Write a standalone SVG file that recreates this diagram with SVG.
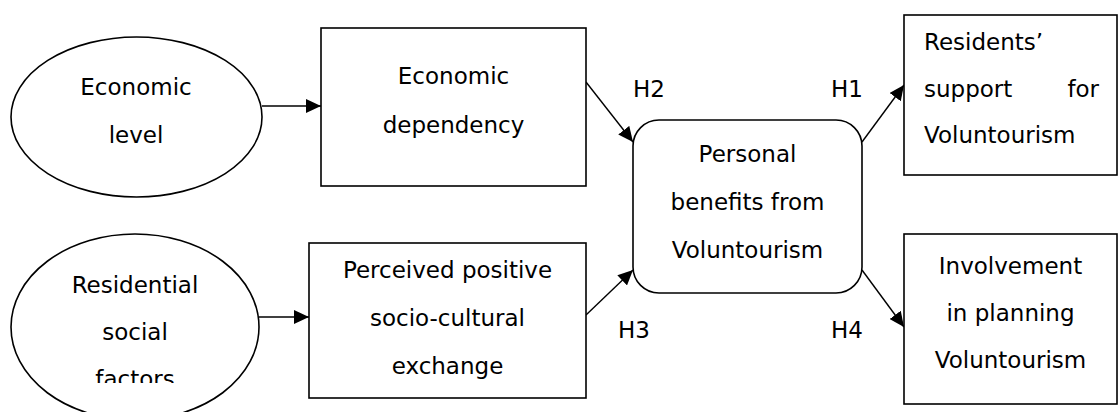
<svg xmlns="http://www.w3.org/2000/svg" width="1119" height="412" viewBox="0 0 1119 412">
<style>
.n{fill:#fff;stroke:#000;stroke-width:1.6}
.t{font-family:"DejaVu Sans",sans-serif;font-size:23px;fill:#000}
.c{text-anchor:middle}
.e{stroke:#000;stroke-width:1.4;fill:none;marker-end:url(#ah)}
</style>
<defs>
<marker id="ah" markerUnits="userSpaceOnUse" markerWidth="16" markerHeight="14" refX="15" refY="7" orient="auto">
<path d="M0,0 L15,7 L0,14 Z" fill="#000"/>
</marker>
<clipPath id="cp"><rect x="0" y="0" width="1119" height="383"/></clipPath>
</defs>
<rect width="1119" height="412" fill="#fff"/>
<g id="connectors">
<line class="e" x1="262" y1="106" x2="321" y2="106"/>
<line class="e" x1="259" y1="317" x2="309" y2="317"/>
<line class="e" x1="586" y1="82" x2="633" y2="142"/>
<line class="e" x1="586" y1="315" x2="633" y2="270"/>
<line class="e" x1="862" y1="142" x2="904" y2="85"/>
<line class="e" x1="862" y1="270" x2="904" y2="327"/>
<text class="t" x="633" y="97">H2</text>
<text class="t" x="831" y="97">H1</text>
<text class="t" x="618" y="338">H3</text>
<text class="t" x="831" y="338">H4</text>
</g>
<g id="economic-level">
<ellipse class="n" cx="136.5" cy="117" rx="125.5" ry="80"/>
<text class="t c" x="136" y="95">Economic</text>
<text class="t c" x="136" y="143">level</text>
</g>
<g id="economic-dependency">
<rect class="n" x="321" y="28" width="265" height="158"/>
<text class="t c" x="453.5" y="84">Economic</text>
<text class="t c" x="453.5" y="133">dependency</text>
</g>
<g id="residential-social-factors">
<ellipse class="n" cx="135" cy="327" rx="124" ry="93"/>
<g clip-path="url(#cp)">
<text class="t c" x="135" y="293">Residential</text>
<text class="t c" x="135" y="340">social</text>
<text class="t c" x="135" y="387">factors</text>
</g>
</g>
<g id="socio-cultural-exchange">
<rect class="n" x="309" y="243" width="277" height="155"/>
<text class="t c" x="447.5" y="278">Perceived positive</text>
<text class="t c" x="447.5" y="326">socio-cultural</text>
<text class="t c" x="447.5" y="374">exchange</text>
</g>
<g id="personal-benefits">
<rect class="n" x="633" y="120" width="229" height="173" rx="26" ry="26"/>
<text class="t c" x="747.5" y="162">Personal</text>
<text class="t c" x="747.5" y="210">benefits from</text>
<text class="t c" x="747.5" y="258">Voluntourism</text>
</g>
<g id="residents-support">
<rect class="n" x="904" y="15" width="213" height="160"/>
<text class="t" x="924" y="50">Residents’</text>
<text class="t" x="924" y="97">support</text>
<text class="t" x="1099" y="97" text-anchor="end">for</text>
<text class="t" x="924" y="143">Voluntourism</text>
</g>
<g id="involvement-planning">
<rect class="n" x="904" y="234" width="213" height="170"/>
<text class="t c" x="1010.5" y="274">Involvement</text>
<text class="t c" x="1010.5" y="321">in planning</text>
<text class="t c" x="1010.5" y="368">Voluntourism</text>
</g>
</svg>
